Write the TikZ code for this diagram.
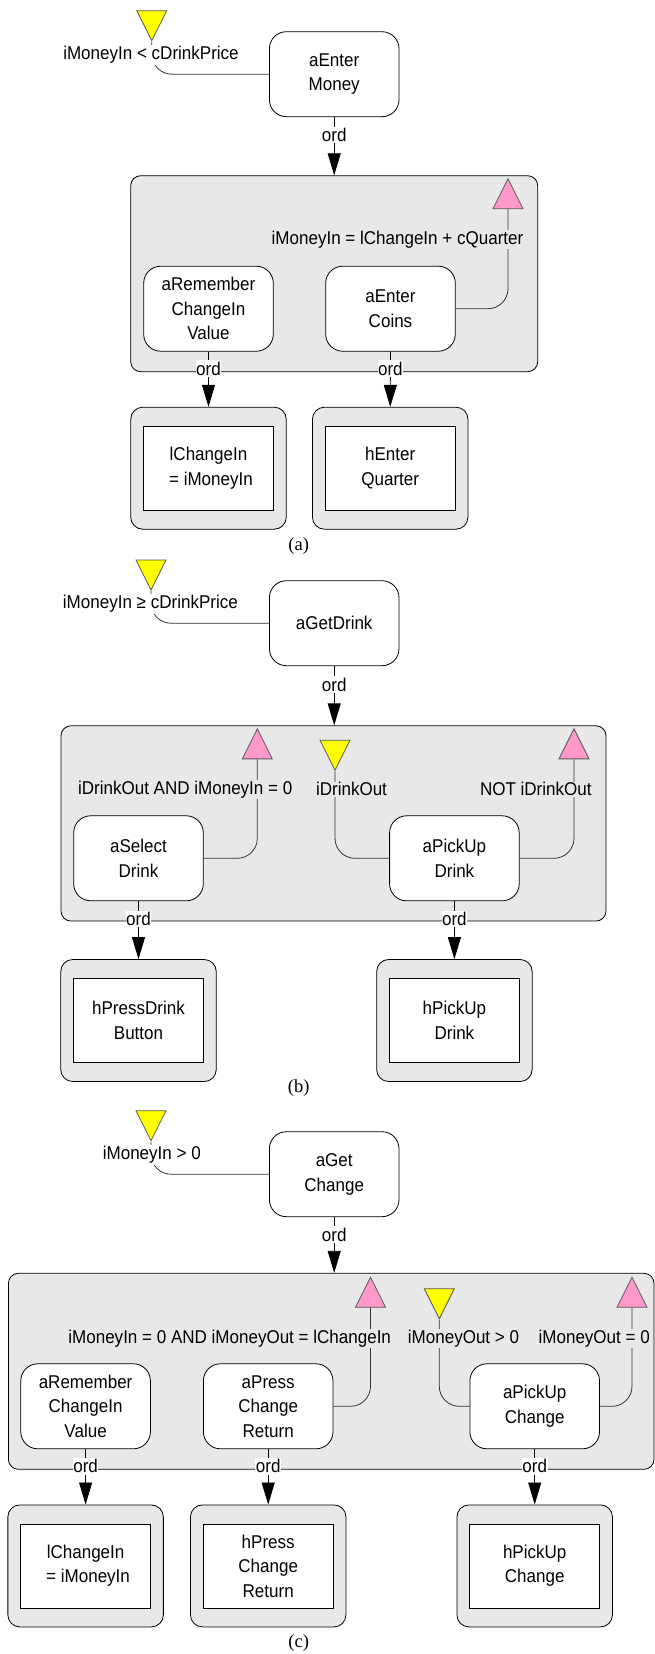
\documentclass[tikz,border=0pt]{standalone}
\usepackage{fontspec}
\setmainfont{Liberation Sans}[FakeStretch=0.92]
\newfontfamily\capfont{Liberation Serif}
\usetikzlibrary{shapes.geometric,arrows.meta}
\definecolor{boxgray}{HTML}{E8E8E8}
\definecolor{condyellow}{HTML}{FFFF00}
\definecolor{condpink}{HTML}{FF99CC}

\begin{document}
\begin{tikzpicture}[x=1pt, y=-1pt, line width=0.8pt,
    font=\fontsize{18.5}{24.5}\selectfont,
    act/.style={draw, fill=white, rounded corners=17pt, minimum width=129.6pt, minimum height=85pt, align=center, inner sep=0pt},
    grp/.style={draw, fill=boxgray, rounded corners=10pt, inner sep=0pt},
    hout/.style={draw, fill=boxgray, rounded corners=12pt, minimum width=155.5pt, minimum height=122pt, inner sep=0pt},
    hin/.style={draw, fill=white, minimum width=130pt, minimum height=84pt, align=center, inner sep=0pt},
    precond/.style={isosceles triangle, isosceles triangle stretches, shape border rotate=270, minimum width=30pt, minimum height=30pt, inner sep=0pt, draw=black!65, fill=condyellow},
    postcond/.style={precond, shape border rotate=90, fill=condpink},
    cond/.style={inner sep=1pt, fill=white},
    ordlbl/.style={inner xsep=0.5pt, inner ysep=1.5pt, fill=white},
    ordarrow/.style={-{Triangle[length=22pt,width=13pt]}},
    wire/.style={draw=black!80, rounded corners=20pt},
    caption/.style={font=\capfont\fontsize{18.5}{20}\selectfont}]
    \useasboundingbox (0,0) rectangle (655,1654);

    % (a)
    \draw
    (334.2, 273.7) node[grp, minimum width=407pt, minimum height=196pt](gA){}
    (151.8, 20) node[precond](preA){}
    (334.2, 74.2) node[act](aEnterMoney){aEnter\\Money}
    (508, 199.5) node[postcond](postA){}
    (208.5, 308.7) node[act](aRememberA){aRemember\\ChangeIn\\Value}
    (390.5, 308.7) node[act](aEnterCoins){aEnter\\Coins}
    (208.5, 468.2) node[hout](hRememberA){}
    (208.5, 468.2) node[hin](hRememberAin){lChangeIn\\\hspace*{5pt}= iMoneyIn}
    (390.2, 468.2) node[hout](hEnterQuarter){}
    (390.2, 468.2) node[hin](hEnterQuarterin){hEnter\\Quarter}
    (298.7, 546.5) node[caption](capA){(a)};

    \draw[wire] (preA.south) |- (aEnterMoney.west);
    \draw[wire] (aEnterCoins.east) -| (postA.south);
    \draw[ordarrow] (aEnterMoney.south) -- node[ordlbl, pos=0.31]{ord} (aEnterMoney.south |- gA.north);
    \draw[ordarrow] (aRememberA.south) -- node[ordlbl, pos=0.31]{ord} (hRememberA.north);
    \draw[ordarrow] (aEnterCoins.south) -- node[ordlbl, pos=0.31]{ord} (hEnterQuarter.north);

    \node[cond] (cPreA) at (151, 55) {iMoneyIn < cDrinkPrice};
    \node[cond, fill=boxgray] (cPostA) at (397.5, 239.3) {iMoneyIn = lChangeIn + cQuarter};

    % (b)
    \draw
    (333.5, 823.4) node[grp, minimum width=545pt, minimum height=195.3pt](gB){}
    (151, 569.3) node[precond](preB){}
    (334.2, 623.2) node[act](aGetDrink){aGetDrink}
    (257.3, 749.6) node[postcond](postB1){}
    (335, 749.6) node[precond](preB2){}
    (574, 749.6) node[postcond](postB3){}
    (138.5, 858.3) node[act](aSelectDrink){aSelect\\Drink}
    (454.4, 858.3) node[act](aPickUpDrink){aPickUp\\Drink}
    (138.5, 1020.5) node[hout](hPressDrink){}
    (138.5, 1020.5) node[hin](hPressDrinkin){hPressDrink\\Button}
    (454.4, 1020.5) node[hout](hPickUpDrink){}
    (454.4, 1020.5) node[hin](hPickUpDrinkin){hPickUp\\Drink}
    (298.7, 1088.3) node[caption](capB){(b)};

    \draw[wire] (preB.south) |- (aGetDrink.west);
    \draw[wire] (aSelectDrink.east) -| (postB1.south);
    \draw[wire] (preB2.south) |- (aPickUpDrink.west);
    \draw[wire] (aPickUpDrink.east) -| (postB3.south);
    \draw[ordarrow] (aGetDrink.south) -- node[ordlbl, pos=0.31]{ord} (aGetDrink.south |- gB.north);
    \draw[ordarrow] (aSelectDrink.south) -- node[ordlbl, pos=0.31]{ord} (hPressDrink.north);
    \draw[ordarrow] (aPickUpDrink.south) -- node[ordlbl, pos=0.31]{ord} (hPickUpDrink.north);

    \node[cond] (cPreB) at (150.4, 604) {iMoneyIn ≥ cDrinkPrice};
    \node[cond, fill=boxgray] (cPostB1) at (185.2, 789.3) {iDrinkOut AND iMoneyIn = 0};
    \node[cond, fill=boxgray] (cPreB2) at (351.5, 789.3) {iDrinkOut};
    \node[cond, fill=boxgray] (cPostB3) at (535.8, 789.3) {NOT iDrinkOut};

    % (c)
    \draw
    (331.2, 1371.3) node[grp, minimum width=645.6pt, minimum height=196pt](gC){}
    (151, 1120) node[precond](preC){}
    (334.2, 1174.2) node[act](aGetChange){aGet\\Change}
    (370.5, 1298) node[postcond](postC1){}
    (439.3, 1298) node[precond](preC2){}
    (632, 1298) node[postcond](postC3){}
    (85.6, 1406.3) node[act](aRememberC){aRemember\\ChangeIn\\Value}
    (268.2, 1406.3) node[act](aPressChange){aPress\\Change\\Return}
    (534.7, 1406.3) node[act](aPickUpChange){aPickUp\\Change}
    (85.6, 1565.9) node[hout](hRememberC){}
    (85.6, 1565.9) node[hin](hRememberCin){lChangeIn\\\hspace*{5pt}= iMoneyIn}
    (268.2, 1565.9) node[hout](hPressChange){}
    (268.2, 1565.9) node[hin](hPressChangein){hPress\\Change\\Return}
    (534.7, 1565.9) node[hout](hPickUpChange){}
    (534.7, 1565.9) node[hin](hPickUpChangein){hPickUp\\Change}
    (298.7, 1643.3) node[caption](capC){(c)};

    \draw[wire] (preC.south) |- (aGetChange.west);
    \draw[wire] (aPressChange.east) -| (postC1.south);
    \draw[wire] (preC2.south) |- (aPickUpChange.west);
    \draw[wire] (aPickUpChange.east) -| (postC3.south);
    \draw[ordarrow] (aGetChange.south) -- node[ordlbl, pos=0.31]{ord} (aGetChange.south |- gC.north);
    \draw[ordarrow] (aRememberC.south) -- node[ordlbl, pos=0.31]{ord} (hRememberC.north);
    \draw[ordarrow] (aPressChange.south) -- node[ordlbl, pos=0.31]{ord} (hPressChange.north);
    \draw[ordarrow] (aPickUpChange.south) -- node[ordlbl, pos=0.31]{ord} (hPickUpChange.north);

    \node[cond] (cPreC) at (151.8, 1155) {iMoneyIn > 0};
    \node[cond, fill=boxgray] (cPostC1) at (229.7, 1338.3) {iMoneyIn = 0 AND iMoneyOut = lChangeIn};
    \node[cond, fill=boxgray] (cPreC2) at (463.5, 1338.3) {iMoneyOut > 0};
    \node[cond, fill=boxgray] (cPostC3) at (594.2, 1338.3) {iMoneyOut = 0};
\end{tikzpicture}
\end{document}
